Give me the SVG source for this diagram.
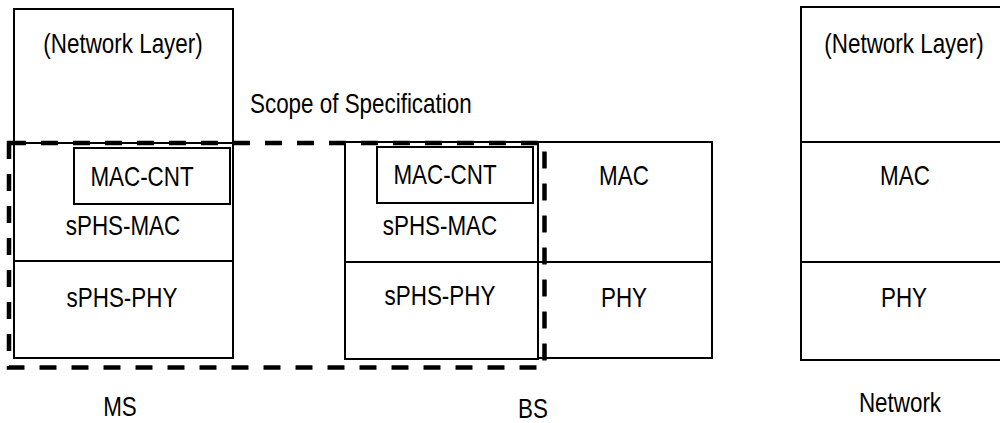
<svg xmlns="http://www.w3.org/2000/svg" width="1000" height="423" viewBox="0 0 1000 423">
  <style>
    .box { fill: #ffffff; stroke: #000000; stroke-width: 2; }
    .ln { stroke: #000000; stroke-width: 2; fill: none; }
    .scope { fill: none; stroke: #000000; stroke-width: 4.5; stroke-dasharray: 17 15; }
    text { font-family: "Liberation Sans", Arial, sans-serif; font-size: 27px; fill: #000000; text-anchor: middle; }
    .lbl { text-anchor: start; }
  </style>
  <rect width="1000" height="423" fill="#ffffff"/>

  <g id="ms">
    <rect class="box" x="14" y="9" width="219" height="349"/>
    <line class="ln" x1="14" y1="143" x2="233" y2="143"/>
    <line class="ln" x1="14" y1="261" x2="233" y2="261"/>
    <text transform="translate(123 53) scale(0.83 1)">(Network Layer)</text>
    <text transform="translate(123 235) scale(0.83 1)">sPHS-MAC</text>
    <text transform="translate(122 307) scale(0.83 1)">sPHS-PHY</text>
    <text transform="translate(120 416) scale(0.83 1)">MS</text>
  </g>
  <g id="ms-maccnt">
    <rect class="box" x="74" y="148" width="156" height="56"/>
    <text transform="translate(142 186) scale(0.83 1)">MAC-CNT</text>
  </g>

  <g id="bs">
    <rect class="box" x="345" y="142" width="193" height="217"/>
    <line class="ln" x1="345" y1="262" x2="538" y2="262"/>
    <text transform="translate(440 235) scale(0.83 1)">sPHS-MAC</text>
    <text transform="translate(440 305) scale(0.83 1)">sPHS-PHY</text>
    <text transform="translate(533 418) scale(0.83 1)">BS</text>
  </g>
  <g id="bs-maccnt">
    <rect class="box" x="377" y="147" width="156" height="56"/>
    <text transform="translate(445 184) scale(0.83 1)">MAC-CNT</text>
  </g>
  <g id="bs-right">
    <rect class="box" x="538" y="142" width="174" height="216"/>
    <line class="ln" x1="538" y1="262" x2="712" y2="262"/>
    <text transform="translate(624 185) scale(0.83 1)">MAC</text>
    <text transform="translate(624 307) scale(0.83 1)">PHY</text>
  </g>

  <g id="network">
    <rect class="box" x="801" y="7" width="202" height="353"/>
    <line class="ln" x1="801" y1="142" x2="1003" y2="142"/>
    <line class="ln" x1="801" y1="262" x2="1003" y2="262"/>
    <text transform="translate(904 53) scale(0.83 1)">(Network Layer)</text>
    <text transform="translate(905 185) scale(0.83 1)">MAC</text>
    <text transform="translate(904 307) scale(0.83 1)">PHY</text>
    <text transform="translate(900 412) scale(0.83 1)">Network</text>
  </g>

  <g id="scope">
    <rect class="scope" x="9" y="143" width="535.5" height="224.5"/>
    <text class="lbl" transform="translate(250 113) scale(0.83 1)">Scope of Specification</text>
  </g>
</svg>
